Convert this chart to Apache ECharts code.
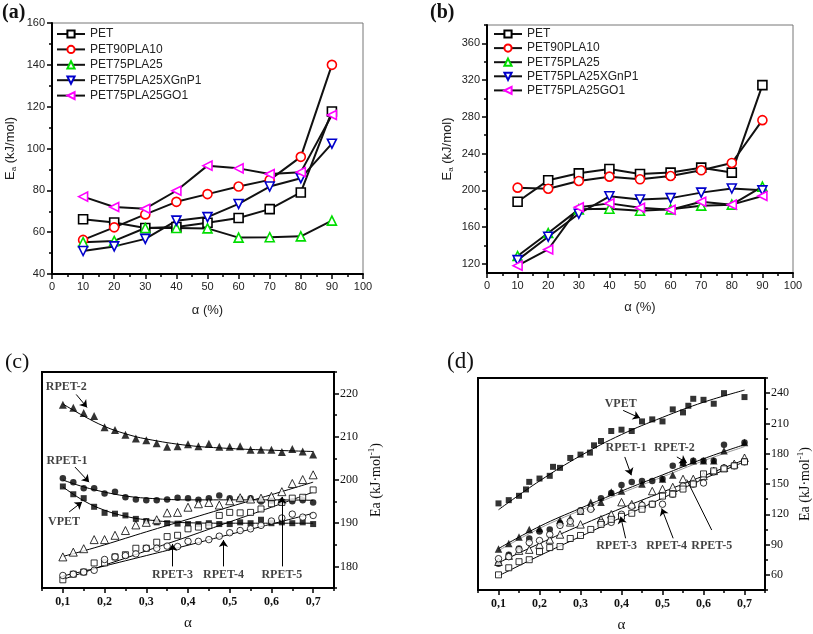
<!DOCTYPE html>
<html><head><meta charset="utf-8">
<script src="https://cdn.jsdelivr.net/npm/echarts/dist/echarts.min.js"></script>
<style>html,body{margin:0;padding:0;background:#fff}#c{width:813px;height:634px}</style>
</head><body><div id="c"></div>
<script>
// ---------- Panel (a) & (b): Ea vs alpha (%) ----------
const alphaAB = [10, 20, 30, 40, 50, 60, 70, 80, 90];
const namesAB = ['PET', 'PET90PLA10', 'PET75PLA25', 'PET75PLA25XGnP1', 'PET75PLA25GO1'];
const aPET      = [66.2, 64.6, 62.0, 62.5, 64.5, 66.8, 71.0, 79.0, 117.7];
const aPET90    = [56.3, 62.3, 68.5, 74.5, 78.2, 81.8, 85.0, 96.0, 140.0];
const aPET75    = [55.2, 55.8, 62.0, 62.0, 61.8, 57.4, 57.6, 58.0, 65.5];
const aXGnP1    = [51.0, 53.2, 56.8, 65.5, 67.2, 73.5, 81.8, 85.8, 102.3];
const aGO1      = [77.0, 72.0, 71.2, 79.8, 91.8, 90.5, 87.8, 88.7, 116.0];
const bPET      = [187.6, 210.9, 218.5, 223.3, 217.8, 219.3, 224.7, 219.3, 314.5];
const bPET90    = [202.9, 201.8, 210.2, 214.9, 212.0, 215.6, 221.8, 229.8, 276.4];
const bPET75    = [128.5, 153.5, 179.3, 180.0, 177.8, 179.3, 183.3, 184.4, 204.0];
const bXGnP1    = [124.0, 149.5, 174.5, 193.5, 190.0, 191.5, 197.5, 202.0, 200.0];
const bGO1      = [118.0, 135.6, 181.5, 185.8, 181.0, 178.9, 187.6, 184.4, 193.8];
const bYLabels = [120, 160, 200, 240, 280, 320, 360], bYMinor = [140, 180, 220, 260, 300, 340, 380];

// ---------- Panel (c) ----------
const cAlpha = [0.1, 0.125, 0.15, 0.175, 0.2, 0.225, 0.25, 0.275, 0.3, 0.325, 0.35, 0.375, 0.4, 0.425, 0.45, 0.475, 0.5, 0.525, 0.55, 0.575, 0.6, 0.625, 0.65, 0.675, 0.7];
const cRPET2 = [217.4, 216.7, 215.5, 214.8, 212.2, 211.6, 210.5, 209.6, 209.2, 208.5, 207.7, 207.8, 208.3, 207.8, 208.4, 207.7, 207.7, 207.8, 207.0, 207.0, 207.0, 206.5, 207.2, 206.6, 205.9];
const cRPET1 = [200.4, 199.5, 198.1, 198.1, 196.9, 197.3, 196.0, 195.5, 195.3, 195.3, 195.5, 195.9, 195.8, 195.4, 195.8, 196.4, 195.8, 195.6, 195.8, 195.0, 195.2, 195.0, 195.1, 195.3, 194.8];
const cVPET  = [198.5, 196.7, 195.8, 193.8, 192.4, 192.2, 191.8, 191.0, 190.5, 190.2, 190.0, 189.9, 189.8, 189.8, 190.0, 189.8, 189.8, 190.2, 190.0, 190.8, 190.0, 190.2, 190.0, 190.2, 189.8];
const cOpenTri = [182.2, 183.3, 184.1, 186.2, 186.2, 187.2, 188.3, 189.6, 190.2, 190.8, 192.4, 192.5, 193.7, 194.5, 194.8, 194.2, 195.2, 195.9, 195.6, 195.8, 196.2, 197.3, 199.2, 200.1, 201.2];
const cOpenSq  = [176.9, 178.2, 178.7, 180.8, 180.8, 182.2, 182.7, 184.2, 184.2, 185.6, 186.9, 187.2, 188.7, 189.1, 189.5, 191.8, 192.5, 192.4, 192.5, 193.3, 194.5, 194.8, 195.8, 196.0, 197.7];
const cOpenCir = [177.9, 178.2, 178.7, 179.1, 181.6, 182.2, 182.5, 182.9, 184.2, 184.2, 184.7, 184.6, 185.8, 185.8, 186.2, 187.0, 187.8, 188.3, 188.7, 189.5, 190.5, 191.2, 192.1, 191.4, 191.8];
const cFitX = [0.1, 0.15, 0.2, 0.25, 0.3, 0.4, 0.5, 0.6, 0.7];
const cFitRPET2 = [217.6, 214.8, 212.4, 210.7, 209.5, 208.0, 207.3, 206.9, 206.6];
const cFitRPET1 = [200.0, 198.4, 197.2, 196.3, 195.8, 195.4, 195.4, 195.4, 195.3];
const cFitVPET  = [198.4, 195.2, 193.0, 191.6, 190.8, 190.1, 190.0, 190.0, 190.0];
const cFitTri   = [182.3, 183.6, 185.0, 186.5, 188.0, 190.9, 193.8, 196.6, 199.5];
const cFitSq    = [177.0, 178.6, 180.3, 181.9, 183.6, 186.9, 190.3, 193.7, 197.2];
const cFitCir   = [177.8, 178.9, 180.1, 181.3, 182.5, 184.9, 187.4, 189.8, 192.3];
const cdXLabels = [0.1, 0.2, 0.3, 0.4, 0.5, 0.6, 0.7], cdXMinor = [0.05, 0.15, 0.25, 0.35, 0.45, 0.55, 0.65, 0.75];
const cYLabels = [180, 190, 200, 210, 220], cYMinor = [175, 185, 195, 205, 215, 225];

// ---------- Panel (d) ----------
const dVPETx = [0.1, 0.125, 0.15, 0.167, 0.175, 0.2, 0.225, 0.233, 0.25, 0.275, 0.3, 0.323, 0.333, 0.35, 0.375, 0.4, 0.425, 0.45, 0.475, 0.5, 0.525, 0.55, 0.563, 0.575, 0.6, 0.625, 0.65, 0.7];
const dVPET  = [130.8, 134.0, 138.3, 144.6, 152.1, 155.4, 158.1, 167.0, 166.0, 175.8, 179.1, 181.1, 188.3, 192.6, 202.5, 203.8, 202.5, 212.0, 214.0, 212.0, 223.9, 220.9, 227.5, 234.4, 233.4, 229.5, 240.0, 236.1];
const dRPET1x = [0.1, 0.125, 0.15, 0.175, 0.2, 0.225, 0.25, 0.3, 0.35, 0.375, 0.4, 0.425, 0.45, 0.475, 0.5, 0.525, 0.55, 0.575, 0.6, 0.625, 0.65, 0.7];
const dRPET1  = [71, 80, 86, 96, 103, 105, 111, 124, 136, 141, 149, 152, 153, 153, 155, 168, 171, 173, 173, 173, 189, 191];
const dRPET2x = [0.1, 0.125, 0.15, 0.175, 0.2, 0.25, 0.275, 0.3, 0.325, 0.35, 0.375, 0.4, 0.45, 0.5, 0.525, 0.55, 0.575, 0.6, 0.625, 0.65, 0.7];
const dRPET2  = [85.5, 91, 97.5, 105, 106, 114, 116, 123, 132, 132, 142, 143, 150, 155, 159, 171, 173, 173, 173, 183, 191];
const dOpenTri = [73, 79, 84, 85, 90, 95, 100, 112, 110, 128, 115, 120, 132, 130, 130, 143, 145, 147, 155, 155, 158, 163, 166, 170, 176];
const dOpenCir = [76, 78, 85, 92, 94, 100, 109, 113, 123, 125, 112, 112, 120, 128, 129, 130, 130, 140, 148, 150, 151, 162, 166, 168, 172];
const dOpenSq  = [60, 67, 73, 75, 83, 87, 88, 96, 99, 105, 110, 115, 118, 121, 125, 130, 138, 140, 145, 150, 160, 163, 165, 168, 172];
const dFitX = [0.1, 0.2, 0.3, 0.4, 0.5, 0.6, 0.7];
const dFitVPET = [124.5, 153, 178, 199, 216, 231, 243];
const dFitR1   = [86, 108, 126, 143, 159, 175, 189];
const dFitR2   = [84, 106, 124, 141, 157, 173, 187];
const dFitO1   = [72, 91, 109, 126, 142, 158, 174];
const dFitO2   = [59, 79, 98, 117, 136, 155, 172];
const dYLabels = [60, 90, 120, 150, 180, 210, 240], dYMinor = [45, 75, 105, 135, 165, 195, 225, 255];

// ---------- annotations (data coordinates) ----------
const cNotes = [['RPET-2', 0.108, 221.5], ['RPET-1', 0.110, 204.4], ['VPET', 0.103, 190.3], ['RPET-3', 0.363, 178.1], ['RPET-4', 0.485, 178.1], ['RPET-5', 0.625, 178.1]];
const cArrows = [[0.132, 219.8, 0.158, 216.8], [0.129, 203.0, 0.163, 199.5], [0.115, 192.6, 0.146, 194.9], [0.363, 180.0, 0.363, 185.2], [0.485, 180.0, 0.485, 186.1], [0.625, 180.0, 0.625, 196.1]];
const dNotes = [['VPET', 0.398, 229.3], ['RPET-1', 0.411, 185.7], ['RPET-2', 0.529, 185.7], ['RPET-3', 0.388, 89], ['RPET-4', 0.51, 89], ['RPET-5', 0.62, 89]];
const dArrows = [[0.404, 222.9, 0.445, 215.3], [0.408, 176.8, 0.424, 158.7], [0.535, 176.8, 0.559, 171.2], [0.41, 96.2, 0.398, 117.6], [0.526, 96.2, 0.498, 125.8]];
const dLines = [[0.62, 104.4, 0.559, 154.4]];

const SANS = '"Liberation Sans", Arial, sans-serif';
const SERIF = '"Liberation Serif", "Times New Roman", serif';

function zip(xs, ys) { return xs.map((x, i) => [x, ys[i]]); }

const abStyle = [
  { symbol: 'rect', rot: 0, color: '#000000' },
  { symbol: 'circle', rot: 0, color: '#ff0000' },
  { symbol: 'triangle', rot: 0, color: '#00dd00' },
  { symbol: 'triangle', rot: 180, color: '#0000cc' },
  { symbol: 'triangle', rot: 90, color: '#ff00ff' }
];
function abSeries(k, ys, gi) {
  const s = abStyle[k];
  return {
    type: 'line', name: namesAB[k], xAxisIndex: gi, yAxisIndex: gi, data: zip(alphaAB, ys),
    symbol: s.symbol, symbolRotate: s.rot, symbolSize: 9, showAllSymbol: true,
    lineStyle: { color: '#111', width: 2 },
    itemStyle: { color: '#fff', borderColor: s.color, borderWidth: 1.6 }, z: 3
  };
}
function pts(name, xs, ys, gi, symbol, size, filled) {
  return {
    type: 'scatter', name, xAxisIndex: gi, yAxisIndex: gi, data: zip(xs, ys), symbol, symbolSize: size, z: 4,
    itemStyle: filled ? { color: '#000' } : { color: '#fff', borderColor: '#000', borderWidth: 1 }
  };
}
function fit(xs, ys, gi, color) {
  return {
    type: 'line', xAxisIndex: gi, yAxisIndex: gi, data: zip(xs, ys), smooth: 0.4, symbol: 'none', silent: true, z: 2,
    lineStyle: { color: color || '#000', width: 1 }
  };
}
function notes(list, arrows, lines, gi) {
  const mk = (a, arrow) => [{ coord: [a[0], a[1]], symbol: 'none' }, { coord: [a[2], a[3]], symbol: arrow ? 'arrow' : 'none', symbolSize: 7 }];
  return {
    type: 'scatter', xAxisIndex: gi, yAxisIndex: gi, symbolSize: 0, silent: true, z: 6,
    data: list.map(n => ({ name: n[0], value: [n[1], n[2]] })),
    label: { show: true, position: 'inside', formatter: p => p.name, fontFamily: SERIF, fontWeight: 'bold', fontSize: 12, color: '#111' },
    markLine: {
      silent: true, animation: false, symbol: ['none', 'arrow'], symbolSize: 7,
      lineStyle: { color: '#000', width: 1, type: 'solid' }, label: { show: false },
      data: arrows.map(a => mk(a, true)).concat(lines.map(a => mk(a, false)))
    }
  };
}

const frameAB = { show: true, borderColor: '#777', borderWidth: 1 };
const frameCD = { show: true, borderColor: '#000', borderWidth: 2 };
const axLineAB = { onZero: false, lineStyle: { color: '#000', width: 2 } };
const axLineCD = { onZero: false, lineStyle: { color: '#000', width: 2 } };
const lblAB = { fontFamily: SANS, fontSize: 11, color: '#222', margin: 7 };
const nameAB = { fontFamily: SANS, fontSize: 13, color: '#222' };
const eaRich = { n: { fontFamily: SANS, fontSize: 13, color: '#222', lineHeight: 16 }, s: { fontFamily: SANS, fontSize: 8, color: '#222', verticalAlign: 'bottom', lineHeight: 16 } };
const eaRich2 = { n: { fontFamily: SERIF, fontSize: 14, color: '#111', lineHeight: 18 }, s: { fontFamily: SERIF, fontSize: 9, color: '#111', verticalAlign: 'top', lineHeight: 18 } };
const cdFmt = v => v.toFixed(1).replace('.', ',');
const minorOnly = { show: false, onZero: false };

const option = {
  animation: false,
  backgroundColor: '#fff',
  title: [
    { text: '(a)', left: 2, top: 3, padding: 0, textStyle: { fontFamily: SERIF, fontWeight: 'bold', fontSize: 20, color: '#111' } },
    { text: '(b)', left: 430, top: 3, padding: 0, textStyle: { fontFamily: SERIF, fontWeight: 'bold', fontSize: 20, color: '#111' } },
    { text: '(c)', left: 5, top: 351, padding: 0, textStyle: { fontFamily: SERIF, fontWeight: 'normal', fontSize: 22, color: '#111' } },
    { text: '(d)', left: 447, top: 350, padding: 0, textStyle: { fontFamily: SERIF, fontWeight: 'normal', fontSize: 23, color: '#111' } }
  ],
  legend: [
    { data: namesAB, left: 56, top: 28, padding: 0, orient: 'vertical', itemWidth: 28, itemHeight: 9, itemGap: 3.4, selectedMode: false,
      textStyle: { fontFamily: SANS, fontSize: 12, color: '#222' } },
    { data: namesAB, left: 493, top: 28, padding: 0, orient: 'vertical', itemWidth: 28, itemHeight: 9, itemGap: 2.1, selectedMode: false,
      textStyle: { fontFamily: SANS, fontSize: 12, color: '#222' } }
  ],
  grid: [
    Object.assign({ left: 52, top: 23, width: 311, height: 251 }, frameAB),
    Object.assign({ left: 487, top: 25, width: 306, height: 248 }, frameAB),
    Object.assign({ left: 42, top: 372, width: 292, height: 216 }, frameCD),
    Object.assign({ left: 478, top: 378, width: 288, height: 215 }, frameCD)
  ],
  xAxis: [
    { gridIndex: 0, type: 'value', position: 'bottom', min: 0, max: 100, interval: 10, axisLine: axLineAB, splitLine: { show: false },
      axisTick: { length: 5, lineStyle: { color: '#000', width: 1.5 } }, minorTick: { show: true, splitNumber: 2, length: 3, lineStyle: { color: '#000', width: 1.5 } },
      axisLabel: lblAB, name: 'α (%)', nameLocation: 'middle', nameGap: 30, nameTextStyle: nameAB },
    { gridIndex: 1, type: 'value', position: 'bottom', min: 0, max: 100, interval: 10, axisLine: axLineAB, splitLine: { show: false },
      axisTick: { length: 5, lineStyle: { color: '#000', width: 1.5 } }, minorTick: { show: true, splitNumber: 2, length: 3, lineStyle: { color: '#000', width: 1.5 } },
      axisLabel: lblAB, name: 'α (%)', nameLocation: 'middle', nameGap: 28, nameTextStyle: nameAB },
    { gridIndex: 2, type: 'value', position: 'bottom', min: 0.05, max: 0.75, axisLine: axLineCD, splitLine: { show: false },
      axisTick: { customValues: cdXLabels, length: 5, lineStyle: { color: '#000', width: 1.5 } },
      axisLabel: { customValues: cdXLabels, formatter: cdFmt, fontFamily: SERIF, fontWeight: 'bold', fontSize: 12, color: '#111', margin: 8 },
      name: 'α', nameLocation: 'middle', nameGap: 28, nameTextStyle: { fontFamily: SERIF, fontSize: 15, color: '#111' } },
    { gridIndex: 3, type: 'value', position: 'bottom', min: 0.05, max: 0.75, axisLine: axLineCD, splitLine: { show: false },
      axisTick: { customValues: cdXLabels, length: 5, lineStyle: { color: '#000', width: 1.5 } },
      axisLabel: { customValues: cdXLabels, formatter: cdFmt, fontFamily: SERIF, fontWeight: 'bold', fontSize: 12, color: '#111', margin: 8 },
      name: 'α', nameLocation: 'middle', nameGap: 28, nameTextStyle: { fontFamily: SERIF, fontSize: 15, color: '#111' } },
    { gridIndex: 2, type: 'value', position: 'bottom', min: 0.05, max: 0.75, axisLine: minorOnly, splitLine: { show: false }, axisLabel: { show: false },
      axisTick: { customValues: cdXMinor, length: 3, lineStyle: { color: '#000', width: 1.5 } } },
    { gridIndex: 3, type: 'value', position: 'bottom', min: 0.05, max: 0.75, axisLine: minorOnly, splitLine: { show: false }, axisLabel: { show: false },
      axisTick: { customValues: cdXMinor, length: 3, lineStyle: { color: '#000', width: 1.5 } } }
  ],
  yAxis: [
    { gridIndex: 0, type: 'value', position: 'left', min: 40, max: 160, interval: 20, axisLine: axLineAB, splitLine: { show: false },
      axisTick: { length: 5, lineStyle: { color: '#000', width: 1.5 } }, minorTick: { show: true, splitNumber: 2, length: 3, lineStyle: { color: '#000', width: 1.5 } },
      axisLabel: lblAB, name: '{n|E}{s|a}{n| (kJ/mol)}', nameLocation: 'middle', nameGap: 34, nameTextStyle: { rich: eaRich } },
    { gridIndex: 1, type: 'value', position: 'left', min: 110, max: 380, axisLine: axLineAB, splitLine: { show: false },
      axisTick: { customValues: bYLabels, length: 5, lineStyle: { color: '#000', width: 1.5 } },
      axisLabel: Object.assign({ customValues: bYLabels }, lblAB), name: '{n|E}{s|a}{n| (kJ/mol)}', nameLocation: 'middle', nameGap: 32, nameTextStyle: { rich: eaRich } },
    { gridIndex: 2, type: 'value', position: 'right', min: 175, max: 225, axisLine: axLineCD, splitLine: { show: false },
      axisTick: { customValues: cYLabels, length: 5, lineStyle: { color: '#000', width: 1.5 } },
      axisLabel: { customValues: cYLabels, fontFamily: SERIF, fontSize: 12, color: '#111', margin: 6 },
      name: '{n|Ea (kJ·mol}{s|-1}{n|)}', nameLocation: 'middle', nameGap: 33, nameTextStyle: { rich: eaRich2 } },
    { gridIndex: 3, type: 'value', position: 'right', min: 45, max: 255, axisLine: axLineCD, splitLine: { show: false },
      axisTick: { customValues: dYLabels, length: 5, lineStyle: { color: '#000', width: 1.5 } },
      axisLabel: { customValues: dYLabels, fontFamily: SERIF, fontSize: 12, color: '#111', margin: 6 },
      name: '{n|Ea (kJ·mol}{s|-1}{n|)}', nameLocation: 'middle', nameGap: 31, nameTextStyle: { rich: eaRich2 } },
    { gridIndex: 1, type: 'value', position: 'left', min: 110, max: 380, axisLine: minorOnly, splitLine: { show: false }, axisLabel: { show: false },
      axisTick: { customValues: bYMinor, length: 3, lineStyle: { color: '#000', width: 1.5 } } },
    { gridIndex: 2, type: 'value', position: 'right', min: 175, max: 225, axisLine: minorOnly, splitLine: { show: false }, axisLabel: { show: false },
      axisTick: { customValues: cYMinor, length: 3, lineStyle: { color: '#000', width: 1.5 } } },
    { gridIndex: 3, type: 'value', position: 'right', min: 45, max: 255, axisLine: minorOnly, splitLine: { show: false }, axisLabel: { show: false },
      axisTick: { customValues: dYMinor, length: 3, lineStyle: { color: '#000', width: 1.5 } } }
  ],
  series: [
    abSeries(0, aPET, 0), abSeries(1, aPET90, 0), abSeries(2, aPET75, 0), abSeries(3, aXGnP1, 0), abSeries(4, aGO1, 0),
    abSeries(0, bPET, 1), abSeries(1, bPET90, 1), abSeries(2, bPET75, 1), abSeries(3, bXGnP1, 1), abSeries(4, bGO1, 1),
    fit(cFitX, cFitRPET2, 2), fit(cFitX, cFitRPET1, 2), fit(cFitX, cFitVPET, 2), fit(cFitX, cFitTri, 2), fit(cFitX, cFitSq, 2), fit(cFitX, cFitCir, 2),
    pts('RPET-2', cAlpha, cRPET2, 2, 'triangle', 8, true),
    pts('RPET-1', cAlpha, cRPET1, 2, 'circle', 6.5, true),
    pts('VPET', cAlpha, cVPET, 2, 'rect', 6, true),
    pts('RPET-5', cAlpha, cOpenTri, 2, 'triangle', 8, false),
    pts('RPET-3', cAlpha, cOpenSq, 2, 'rect', 6, false),
    pts('RPET-4', cAlpha, cOpenCir, 2, 'circle', 6.5, false),
    notes(cNotes, cArrows, [], 2),
    fit(dFitX, dFitVPET, 3), fit(dFitX, dFitR1, 3), fit(dFitX, dFitR2, 3, '#999'), fit(dFitX, dFitO1, 3), fit(dFitX, dFitO2, 3),
    pts('VPET', dVPETx, dVPET, 3, 'rect', 6, true),
    pts('RPET-1', dRPET1x, dRPET1, 3, 'circle', 6.5, true),
    pts('RPET-2', dRPET2x, dRPET2, 3, 'triangle', 7.5, true),
    pts('RPET-5', cAlpha, dOpenTri, 3, 'triangle', 7.5, false),
    pts('RPET-4', cAlpha, dOpenCir, 3, 'circle', 6.5, false),
    pts('RPET-3', cAlpha, dOpenSq, 3, 'rect', 6, false),
    notes(dNotes, dArrows, dLines, 3)
  ]
};
echarts.init(document.getElementById('c'), null, { renderer: 'canvas' }).setOption(option);
</script></body></html>
